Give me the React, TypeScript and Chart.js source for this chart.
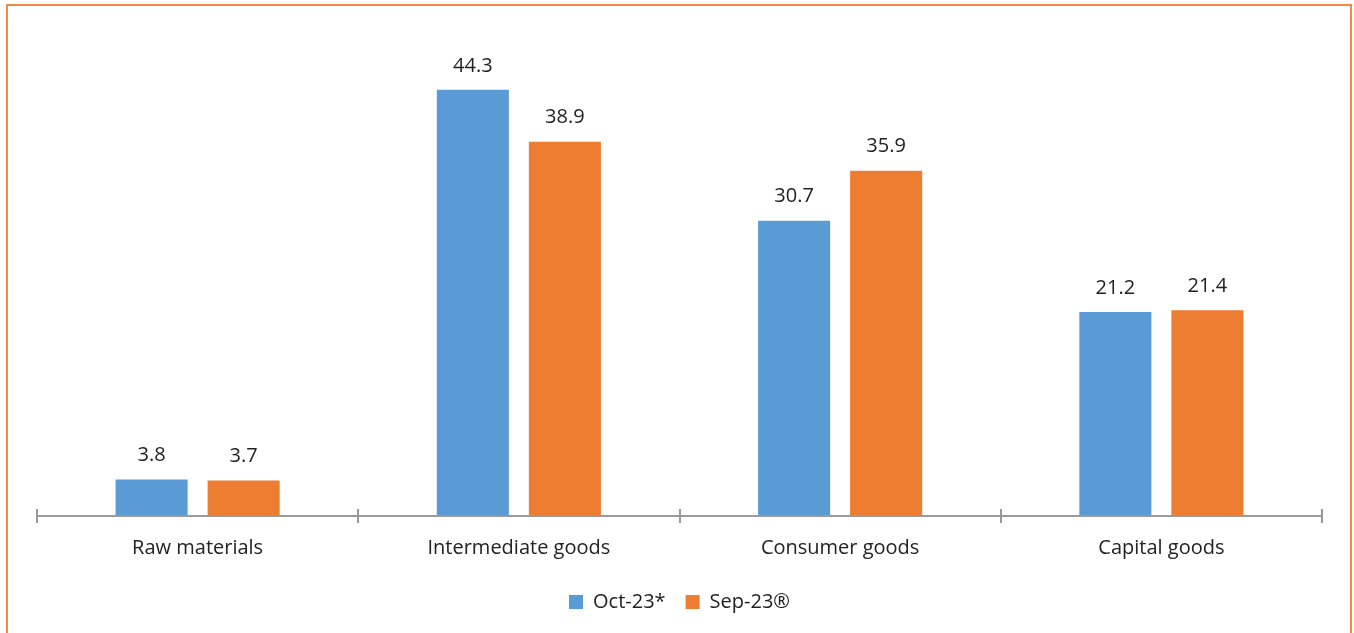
import React, { useEffect, useRef } from "react";
import { Chart, registerables } from "chart.js";

Chart.register(...registerables);

const categories = ["Raw materials", "Intermediate goods", "Consumer goods", "Capital goods"];
const seriesNames = ["Oct-23*", "Sep-23®"];
const oct23Values = [3.8, 44.3, 30.7, 21.2];
const sep23Values = [3.7, 38.9, 35.9, 21.4];
const seriesColors = ["#5B9BD5", "#ED7D31"];
const yMin = 0;
const yMax = 50;

const FONT = "'Open Sans', 'Noto Sans', sans-serif";

const valueLabelPlugin = {
  id: "valueLabels",
  afterDatasetsDraw(chart: any) {
    const ctx = chart.ctx;
    ctx.save();
    ctx.font = `20px ${FONT}`;
    ctx.fillStyle = "#222222";
    ctx.textAlign = "center";
    ctx.textBaseline = "middle";
    chart.data.datasets.forEach((ds: any, di: number) => {
      const meta = chart.getDatasetMeta(di);
      meta.data.forEach((el: any, i: number) => {
        ctx.fillText(String(ds.data[i].toFixed(1)), el.x, el.y - 24);
      });
    });
    ctx.restore();
  },
};

const axisPlugin = {
  id: "crossAxis",
  afterDatasetsDraw(chart: any) {
    const xs = chart.scales.x;
    const ys = chart.scales.y;
    const ctx = chart.ctx;
    const y0 = ys.getPixelForValue(0);
    ctx.save();
    ctx.strokeStyle = "#9A9A9A";
    ctx.lineWidth = 2;
    ctx.beginPath();
    ctx.moveTo(xs.left, y0);
    ctx.lineTo(xs.right, y0);
    const n = chart.data.labels.length;
    for (let i = 0; i <= n; i++) {
      const x = Math.round(xs.left + (i * xs.width) / n);
      ctx.moveTo(x, y0 - 7);
      ctx.lineTo(x, y0 + 7);
    }
    ctx.stroke();
    ctx.restore();
  },
};

export default function App() {
  const ref = useRef<HTMLCanvasElement | null>(null);
  useEffect(() => {
    if (!ref.current) return;
    const chart = new Chart(ref.current, {
      type: "bar",
      data: {
        labels: categories,
        datasets: [
          {
            label: seriesNames[0],
            data: oct23Values,
            backgroundColor: seriesColors[0],
            borderWidth: 0,
            categoryPercentage: 0.573,
            barPercentage: 0.783,
          },
          {
            label: seriesNames[1],
            data: sep23Values,
            backgroundColor: seriesColors[1],
            borderWidth: 0,
            categoryPercentage: 0.573,
            barPercentage: 0.783,
          },
        ],
      },
      options: {
        responsive: false,
        animation: false,
        devicePixelRatio: 1,
        layout: { padding: { left: 37, right: 32, top: 35, bottom: 11 } },
        scales: {
          x: {
            grid: { display: false },
            border: { display: false },
            ticks: {
              color: "#222222",
              padding: 16,
              font: { family: FONT, size: 20, lineHeight: 0.8 },
            },
          },
          y: { display: false, min: yMin, max: yMax },
        },
        plugins: {
          legend: {
            position: "bottom",
            labels: {
              boxWidth: 14,
              boxHeight: 14,
              padding: 20,
              color: "#222222",
              font: { family: FONT, size: 20 },
            },
          },
          tooltip: { enabled: false },
        },
      },
      plugins: [valueLabelPlugin, axisPlugin],
    });
    return () => chart.destroy();
  }, []);

  return (
    <div
      style={{
        position: "absolute",
        left: 0,
        top: 0,
        width: 1354,
        height: 633,
        overflow: "hidden",
        background: "#ffffff",
      }}
    >
      <div
        style={{
          position: "absolute",
          left: 6,
          top: 4,
          width: 1346,
          height: 700,
          boxSizing: "border-box",
          border: "2px solid #F08A48",
        }}
      />
      <canvas
        ref={ref}
        width={1354}
        height={633}
        style={{ position: "absolute", left: 0, top: 0, width: 1354, height: 633 }}
      />
    </div>
  );
}
